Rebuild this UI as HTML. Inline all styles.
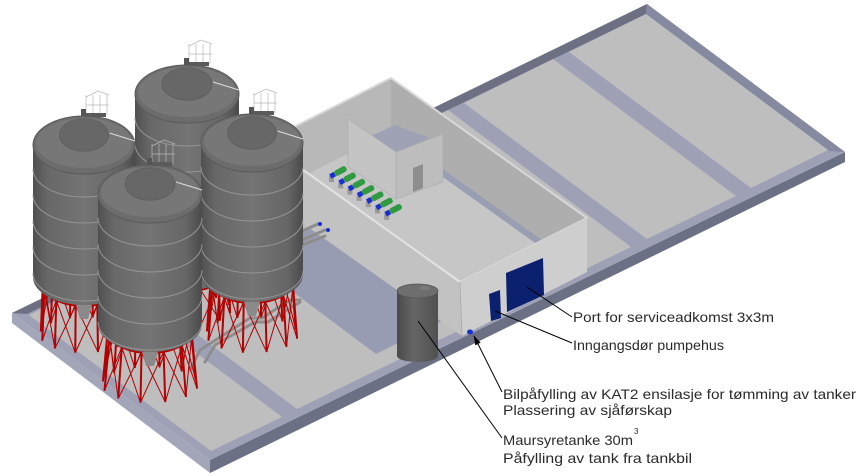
<!DOCTYPE html>
<html><head><meta charset="utf-8"><style>
html,body{margin:0;padding:0;background:#fff;width:857px;height:476px;overflow:hidden}
svg{display:block}
text{font-family:"Liberation Sans",sans-serif;font-size:14px;fill:#2a2a2a}
</style></head><body>
<svg id="s" width="857" height="476" viewBox="0 0 857 476" xmlns="http://www.w3.org/2000/svg">
<defs>
<linearGradient id="body" x1="0" y1="0" x2="1" y2="0">
<stop offset="0" stop-color="#505050"/><stop offset="0.15" stop-color="#686868"/><stop offset="0.5" stop-color="#747474"/><stop offset="0.85" stop-color="#666"/><stop offset="1" stop-color="#4a4a4a"/>
</linearGradient>
<linearGradient id="tank" x1="0" y1="0" x2="1" y2="0">
<stop offset="0" stop-color="#4a4a4a"/><stop offset="0.4" stop-color="#666"/><stop offset="1" stop-color="#505050"/>
</linearGradient>
<clipPath id="bclip"><polygon points="264,142 391,78 587,218 460,282"/></clipPath>
<marker id="ah" markerWidth="10" markerHeight="10" refX="9" refY="5" orient="auto" markerUnits="userSpaceOnUse"><path d="M0,2 L10,5 L0,8 Z" fill="#000"/></marker>
</defs>
<polygon points="12,313 210,460 210,473 12,323" fill="#a3a6b8"/>
<polygon points="210,460 845,152 845,162 210,473" fill="#6c7084"/>
<polygon points="12,313 647,4 845,152 210,460" fill="#9ea1b6"/>
<polygon points="647,4 12,313 27,314 646,14" fill="#6c7082"/>
<polygon points="647,4 845,152 829,151 646,14" fill="#858aa0"/>
<polygon points="646,14 569,52 751,188 828,150" fill="#bebebe"/>
<polygon points="553,59 464,103 647,239 736,196" fill="#bebebe"/>
<polygon points="448,110 115,273 297,409 631,247" fill="#bebebe"/>
<polygon points="99,280 29,315 211,451 282,417" fill="#bebebe"/>
<polygon points="316,226 249,259 376,354 442,321" fill="#989cb2"/>
<g clip-path="url(#bclip)">
<rect x="250" y="70" width="350" height="230" fill="#c6c6c6"/>
<polygon points="391,78 587,218 587,272 391,132" fill="#aeaeae"/>
<polygon points="264,142 391,78 391,132 264,196" fill="#b8b8b8"/>
<polygon points="391,132 587,272 587,280 391,140" fill="#9a9eb3"/>
</g>
<polygon points="264,142 391,78 587,218 460,282" fill="none" stroke="#d8d8d8" stroke-width="2"/>
<polygon points="362,140 396,152 430,138 395,125" fill="#9ea2b4"/>
<polygon points="348,119 396,152 396,199 348,167" fill="#c4c4c4" stroke="#aaa" stroke-width="0.6"/>
<polygon points="396,152 443,134 443,182 396,199" fill="#bdbdbd" stroke="#aaa" stroke-width="0.6"/>
<polygon points="413,168 423,164 423,188 413,192" fill="#8e8e8e"/>
<g id="pumps"></g>
<polygon points="264,142 460,282 462,336 264,196" fill="#c2c2c2"/>
<polygon points="264,142 460,282" fill="none" stroke="#e2e2e2" stroke-width="2"/>
<polygon points="460,282 587,218 587,272 462,336" fill="#cecece"/>
<line x1="460" y1="282" x2="462" y2="336" stroke="#aaa" stroke-width="0.8"/>
<polygon points="506,273 543,258 544,295 507,312" fill="#0b206f"/>
<polygon points="489,294 500,290 501,318 491,321" fill="#0b206f"/>
<ellipse cx="470" cy="332" rx="3" ry="2.5" fill="#1a2fd0"/>
<g stroke="#8d8d8d" stroke-width="3" fill="none" stroke-linecap="round">
<polyline points="300,232 318,224"/><polyline points="300,241 325,230"/><polyline points="300,246 325,236"/>
<polyline points="190,370 200,350 250,318 262,318 290,300 300,300"/>
<polyline points="205,362 215,345 255,322 268,322 300,302"/>
</g>
<circle cx="320" cy="224" r="2" fill="#1a2fd0"/><circle cx="328" cy="230" r="2" fill="#1a2fd0"/>
<path d="M397,291 L397,356 A20.5,6 0 0 0 438,356 L438,291 Z" fill="url(#tank)"/>
<ellipse cx="417.5" cy="291" rx="20.5" ry="7" fill="#6e6e6e" stroke="#555" stroke-width="0.8"/>
<ellipse cx="425" cy="288" rx="5" ry="2" fill="#7c7c7c"/>
<g id="silos"></g>
<g stroke="#000" stroke-width="1" fill="none">
<line x1="527" y1="287" x2="572" y2="317"/>
<line x1="495" y1="311" x2="572" y2="343"/>
<line x1="502" y1="392" x2="474" y2="336" marker-end="url(#ah)"/>
<line x1="418" y1="321" x2="502" y2="438"/>
</g>
<text x="573" y="322" textLength="201" lengthAdjust="spacingAndGlyphs">Port for serviceadkomst 3x3m</text>
<text x="573" y="350" textLength="151" lengthAdjust="spacingAndGlyphs">Inngangsdør pumpehus</text>
<text x="503" y="399" textLength="353" lengthAdjust="spacingAndGlyphs">Bilpåfylling av KAT2 ensilasje for tømming av tanker</text>
<text x="503" y="415" textLength="169" lengthAdjust="spacingAndGlyphs">Plassering av sjåførskap</text>
<text x="503" y="445" textLength="130" lengthAdjust="spacingAndGlyphs">Maursyretanke 30m</text>
<text x="634" y="434" style="font-size:8px">3</text>
<text x="503" y="463" textLength="189" lengthAdjust="spacingAndGlyphs">Påfylling av tank fra tankbil</text>
</svg>
<script>
var NS="http://www.w3.org/2000/svg";
function el(p,t,a){var e=document.createElementNS(NS,t);for(var k in a)e.setAttribute(k,a[k]);p.appendChild(e);return e;}
var pg=document.getElementById("pumps");
for(var i=0;i<7;i++){var x=333+i*9.2,y=175+i*6.3;
 el(pg,"rect",{x:x-4,y:y+1,width:5,height:6,fill:"#9a9a9a"});
 var g=el(pg,"g",{transform:"translate("+x+","+y+") rotate(-28)"});
 el(g,"rect",{x:2,y:-3,width:13,height:6,rx:2.5,fill:"#2f9a42"});
 el(g,"rect",{x:-3,y:-2.5,width:5,height:5,fill:"#1a2fd0"});
}
var sg=document.getElementById("silos");
function silo(cx,rx,top,bot,lcy,lrx,lry){
 var ry=28,cyT=top+ry,cyB=bot-ry;
 var N=12,tp=[],bp=[];
 for(var i=0;i<N;i++){var a=i*2*Math.PI/N+0.2;
  tp.push([cx+0.82*rx*Math.cos(a),cyB+0.82*ry*Math.sin(a)+6]);
  bp.push([cx+lrx*Math.cos(a),lcy+lry*Math.sin(a)]);}
 var lg=el(sg,"g",{stroke:"#b30000",fill:"none"});
 for(var i=0;i<N;i++){var j=(i+1)%N;
  el(lg,"line",{x1:tp[i][0],y1:tp[i][1],x2:bp[i][0],y2:bp[i][1],"stroke-width":2});
  el(lg,"line",{x1:tp[i][0],y1:tp[i][1],x2:bp[j][0],y2:bp[j][1],"stroke-width":1});
  el(lg,"line",{x1:tp[j][0],y1:tp[j][1],x2:bp[i][0],y2:bp[i][1],"stroke-width":1});}
 el(lg,"ellipse",{cx:cx,cy:cyB+6,rx:0.82*rx,ry:0.82*ry,"stroke-width":2});
 el(sg,"path",{d:"M"+(cx-8)+","+(cyB+ry)+" l4,14 h8 l4,-14 Z",fill:"#8a8a8a"});
 el(sg,"path",{d:"M"+(cx-rx)+","+cyT+" L"+(cx-rx)+","+cyB+" A"+rx+","+ry+" 0 0 0 "+(cx+rx)+","+cyB+" L"+(cx+rx)+","+cyT+" Z",fill:"url(#body)"});
 for(var y=cyT+24;y<cyB+2;y+=26)
  el(sg,"path",{d:"M"+(cx-rx)+","+y+" A"+rx+","+ry+" 0 0 0 "+(cx+rx)+","+y,fill:"none",stroke:"#959595","stroke-width":1});
 el(sg,"ellipse",{cx:cx,cy:cyT,rx:rx,ry:ry+1,fill:"#6c6c6c",stroke:"#5a5a5a","stroke-width":1});
 el(sg,"ellipse",{cx:cx,cy:cyT-2,rx:rx-3,ry:ry-3,fill:"#777"});
 el(sg,"ellipse",{cx:cx,cy:cyT-10,rx:rx*0.48,ry:ry*0.58,fill:"#676767",stroke:"#5d5d5d","stroke-width":0.8});
 el(sg,"line",{x1:cx+rx*0.5,y1:cyT-12,x2:cx+rx,y2:cyT-4,stroke:"#ddd","stroke-width":1});
 var r=el(sg,"g",{stroke:"#b8b8b8","stroke-width":0.7,fill:"none"});
 for(var k=0;k<4;k++){el(r,"line",{x1:cx+2+k*7,y1:top-2,x2:cx+2+k*7,y2:top-22});}
 el(r,"polyline",{points:(cx+2)+","+(top-20)+" "+(cx+14)+","+(top-26)+" "+(cx+25)+","+(top-22)});
 el(r,"polyline",{points:(cx+2)+","+(top-12)+" "+(cx+25)+","+(top-12)});
 el(sg,"rect",{x:cx-3,y:top-8,width:5,height:7,fill:"#555"});
 el(sg,"rect",{x:cx+2,y:top-4,width:20,height:4,fill:"#5a5a5a"});
}
silo(187,52,66,290,310,44,16);
silo(84,51,117,305,335,44,18);
silo(252,51,115,302,335,46,18);
silo(150,52,166,352,385,48,18);
</script>
</body></html>
